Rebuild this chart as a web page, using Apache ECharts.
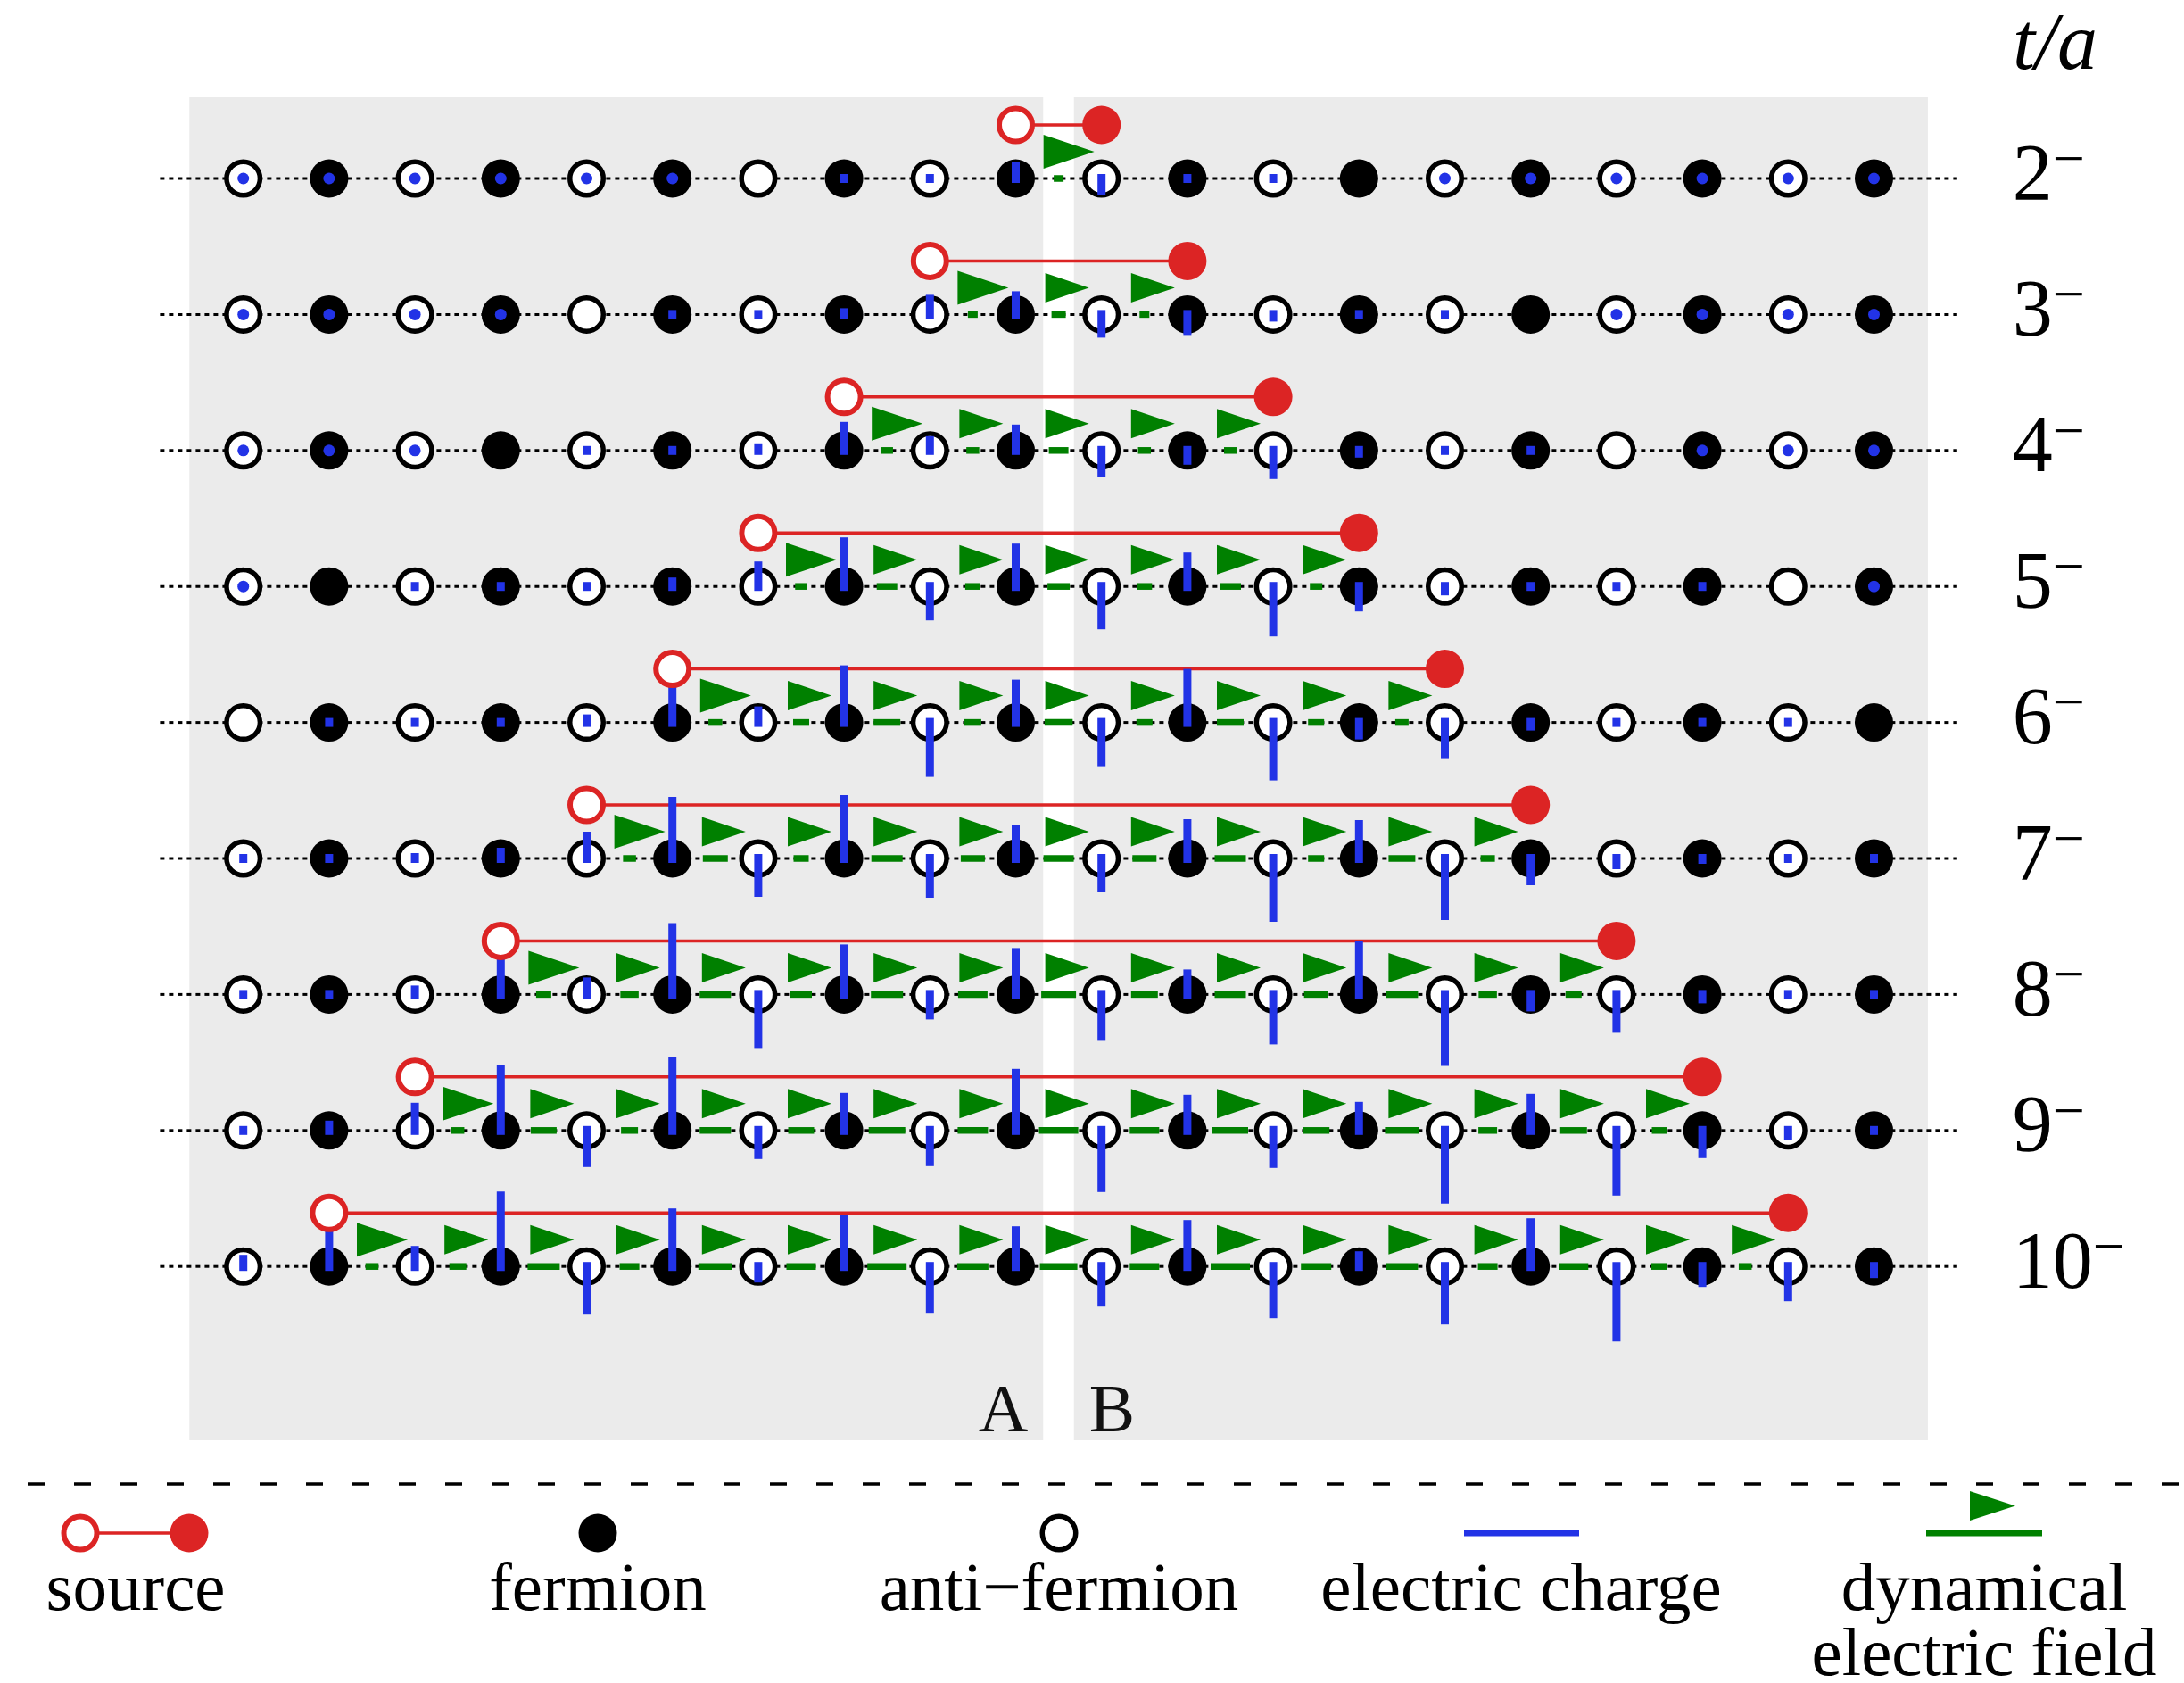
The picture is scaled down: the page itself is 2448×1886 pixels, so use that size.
<!DOCTYPE html>
<html><head><meta charset="utf-8">
<script src="https://cdn.jsdelivr.net/npm/echarts@6/dist/echarts.min.js"></script>
<style>html,body{margin:0;padding:0;background:#fff}#chart{width:2448px;height:1886px}</style>
</head><body><div id="chart"></div>
<script>
// ---------------- data ----------------
const rowTimes = [2, 3, 4, 5, 6, 7, 8, 9, 10];
const tickLabels = ['2', '3', '4', '5', '6', '7', '8', '9', '10'];
const siteKinds = ['anti','ferm','anti','ferm','anti','ferm','anti','ferm','anti','ferm',
                   'anti','ferm','anti','ferm','anti','ferm','anti','ferm','anti','ferm'];
// light-cone boundary sites per row (sites outside show only a dot, boundary sites are empty)
const coneEdges = [[6,13],[4,15],[3,16],[1,18],[0,19],[-1,20],[-1,20],[-1,20],[-1,20]];
const sourceLeft  = [9, 8, 7, 6, 5, 4, 3, 2, 1];
const sourceRight = [10, 11, 12, 13, 14, 15, 16, 17, 18];
const n = null;
// electric charge per site (positive = up)
const charge_t2  = [n,n,n,n,n,n,n, 0, 0, 0.13, -0.13, 0, 0, n,n,n,n,n,n,n];
const charge_t3  = [n,n,n,n,n, 0, 0, 0.02, 0.17, 0.21, -0.21, -0.18, -0.03, 0, 0, n,n,n,n,n];
const charge_t4  = [n,n,n,n, 0, 0, 0.03, 0.27, 0.11, 0.24, -0.25, -0.11, -0.27, -0.03, 0, 0, n,n,n,n];
const charge_t5  = [n,n, 0, 0, 0, 0.05, 0.23, 0.50, -0.33, 0.43, -0.43, 0.33, -0.51, -0.23, -0.05, 0, 0, 0, n,n];
const charge_t6  = [n, 0, 0, 0, 0.04, 0.35, 0.13, 0.59, -0.56, 0.43, -0.44, 0.55, -0.60, -0.14, -0.35, -0.04, 0, 0, 0, n];
const charge_t7  = [0, 0, 0.01, 0.07, 0.25, 0.64, -0.38, 0.66, -0.39, 0.33, -0.33, 0.39, -0.66, 0.38, -0.64, -0.25, -0.07, -0.01, 0, 0];
const charge_t8  = [0, 0, 0.05, 0.37, 0.14, 0.75, -0.55, 0.51, -0.23, 0.47, -0.47, 0.23, -0.51, 0.55, -0.75, -0.14, -0.38, -0.05, 0, 0];
const charge_t9  = [0, 0.06, 0.26, 0.68, -0.36, 0.77, -0.27, 0.37, -0.35, 0.64, -0.64, 0.35, -0.37, 0.27, -0.77, 0.36, -0.68, -0.26, -0.06, 0];
const charge_t10 = [0.08, 0.35, 0.18, 0.79, -0.49, 0.60, -0.13, 0.53, -0.47, 0.40, -0.40, 0.47, -0.53, 0.12, -0.60, 0.49, -0.79, -0.18, -0.34, -0.08];
// dynamical electric field on links, from the left source to the right source
const field_t2  = [0.22];
const field_t3  = [0.22, 0.32, 0.22];
const field_t4  = [0.27, 0.29, 0.44, 0.29, 0.28];
const field_t5  = [0.27, 0.46, 0.34, 0.50, 0.34, 0.48, 0.28];
const field_t6  = [0.31, 0.36, 0.60, 0.38, 0.63, 0.36, 0.60, 0.36, 0.30];
const field_t7  = [0.29, 0.56, 0.34, 0.70, 0.54, 0.68, 0.54, 0.70, 0.36, 0.60, 0.32];
const field_t8  = [0.34, 0.41, 0.70, 0.48, 0.72, 0.66, 0.78, 0.60, 0.70, 0.54, 0.72, 0.41, 0.36];
const field_t9  = [0.29, 0.58, 0.38, 0.70, 0.58, 0.82, 0.68, 0.88, 0.66, 0.80, 0.60, 0.76, 0.42, 0.60, 0.34];
const field_t10 = [0.29, 0.38, 0.72, 0.44, 0.76, 0.66, 0.88, 0.70, 0.84, 0.66, 0.88, 0.68, 0.72, 0.44, 0.66, 0.36, 0.29];
const legendLabels = ['source', 'fermion', 'anti\u2212fermion', 'electric charge', 'dynamical\nelectric field'];

const charges = [charge_t2, charge_t3, charge_t4, charge_t5, charge_t6, charge_t7, charge_t8, charge_t9, charge_t10];
const fields = [field_t2, field_t3, field_t4, field_t5, field_t6, field_t7, field_t8, field_t9, field_t10];

// ---------------- style constants ----------------
const RED = '#dc2424', BLUE = '#2233e6', GREEN = '#008000', GRAY = '#ebebeb';
const FONT = 'Liberation Serif';
const CHARGE_PX = 100, FIELD_PX = 50, BAR_W = 9, BAR_CAP = 5, FIELD_H = 7.5;
const SRC_DY = -60, TRI_DY = -30;
const CIRCLE_D = 43, RING_W = 5.5;

// ---------------- build series data ----------------
const barData = [], dotData = [], fermData = [], antiData = [], fieldData = [], triData = [];
const srcData = [];
rowTimes.forEach((t, r) => {
  const c = charges[r];
  for (let i = 0; i < siteKinds.length; i++) {
    if (siteKinds[i] === 'ferm') fermData.push([i, t]); else antiData.push([i, t]);
    if (c[i] !== null) barData.push([i, t, c[i]]);
    else if (i < coneEdges[r][0] || i > coneEdges[r][1]) dotData.push([i, t]);
  }
  fields[r].forEach((e, k) => {
    const link = sourceLeft[r] + k + 0.5;
    fieldData.push([link, t, e]);
    triData.push({ value: [link, t], first: k === 0 });
  });
  srcData.push([sourceLeft[r], t, sourceRight[r]]);
});
const srcOpen = srcData.map(d => [d[0], d[1]]);
const srcFull = srcData.map(d => [d[2], d[1]]);

const chart = echarts.init(document.getElementById('chart'), null, { renderer: 'canvas' });

const triSymbol = 'path://M0,0 L1,0.5 L0,1 Z';

const option = {
  animation: false,
  backgroundColor: '#fff',
  grid: { left: 176.5, right: 251.3, top: 47.6, bottom: 162 },
  xAxis: { type: 'value', min: -1, max: 20, show: false },
  yAxis: {
    type: 'value', inverse: true, min: 1, max: 12, interval: 1, position: 'right',
    axisLine: { show: false }, axisTick: { show: false }, splitLine: { show: false },
    axisLabel: {
      margin: 59, align: 'left',
      formatter: v => {
        const i = rowTimes.indexOf(v);
        return i < 0 ? '' : '{n|' + tickLabels[i] + '}{s|\u2212}';
      },
      rich: {
        n: { fontFamily: FONT, fontSize: 90, lineHeight: 100, color: '#000' },
        s: { fontFamily: FONT, fontSize: 64, lineHeight: 42, verticalAlign: 'top', color: '#000' }
      }
    }
  },
  series: [
    { // lattice line + panels
      type: 'custom', z: 2, silent: true,
      data: rowTimes.map(t => [0, t]),
      encode: { x: 0, y: 1 },
      renderItem: (params, api) => {
        const t = api.value(1);
        const a = api.coord([-0.97, t]), b = api.coord([19.97, t]);
        return { type: 'line', shape: { x1: a[0], y1: a[1], x2: b[0], y2: b[1] },
                 style: { stroke: '#000', lineWidth: 3, lineDash: [5, 5] } };
      },
      markArea: {
        silent: true,
        itemStyle: { color: GRAY, opacity: 1 },
        label: { fontFamily: FONT, fontSize: 77, color: '#111', distance: 0 },
        data: [
          [{ xAxis: -0.628, yAxis: 1.403, name: 'A',
             label: { position: 'insideBottomRight', offset: [-17, 8] } },
           { xAxis: 9.32, yAxis: 11.278 }],
          [{ xAxis: 9.678, yAxis: 1.403, name: 'B',
             label: { position: 'insideBottomLeft', offset: [17, 8] } },
           { xAxis: 19.628, yAxis: 11.278 }]
        ]
      }
    },
    { // electric field bars on the links
      type: 'custom', z: 3, silent: true, data: fieldData, encode: { x: 0, y: 1 },
      renderItem: (params, api) => {
        const p = api.coord([api.value(0), api.value(1)]);
        const w = api.value(2) * FIELD_PX;
        return { type: 'rect', shape: { x: p[0] - w / 2, y: p[1] - FIELD_H / 2, width: w, height: FIELD_H },
                 style: { fill: GREEN } };
      }
    },
    { type: 'scatter', z: 4, silent: true, data: fermData, symbol: 'circle', symbolSize: CIRCLE_D,
      itemStyle: { color: '#000', opacity: 1 } },
    { type: 'scatter', z: 4, silent: true, data: antiData, symbol: 'circle', symbolSize: CIRCLE_D - RING_W,
      itemStyle: { color: '#fff', borderColor: '#000', borderWidth: RING_W, opacity: 1 } },
    { // source string line
      type: 'custom', z: 5, silent: true, data: srcData, encode: { x: 0, y: 1 },
      renderItem: (params, api) => {
        const a = api.coord([api.value(0), api.value(1)]);
        const b = api.coord([api.value(2), api.value(1)]);
        return { type: 'line', shape: { x1: a[0], y1: a[1] + SRC_DY, x2: b[0], y2: b[1] + SRC_DY },
                 style: { stroke: RED, lineWidth: 3.5 } };
      }
    },
    { // electric charge bars
      type: 'custom', z: 6, silent: true, data: barData, encode: { x: 0, y: 1 },
      renderItem: (params, api) => {
        const p = api.coord([api.value(0), api.value(1)]);
        const len = api.value(2) * CHARGE_PX;
        const top = p[1] - Math.max(len, 0) - BAR_CAP;
        const bot = p[1] + Math.max(-len, 0) + BAR_CAP;
        return { type: 'rect', shape: { x: p[0] - BAR_W / 2, y: top, width: BAR_W, height: bot - top },
                 style: { fill: BLUE } };
      }
    },
    { type: 'scatter', z: 6, silent: true, data: dotData, symbol: 'circle', symbolSize: 13,
      itemStyle: { color: BLUE, opacity: 1 } },
    { type: 'scatter', z: 7, silent: true, symbol: triSymbol,
      data: triData.map(d => ({ value: d.value,
        symbolSize: d.first ? [57, 38] : [49, 33],
        symbolOffset: [d.first ? 11.5 : 9.5, TRI_DY] })),
      symbolKeepAspect: false,
      itemStyle: { color: GREEN, opacity: 1 } },
    { type: 'scatter', z: 8, silent: true, data: srcOpen, symbol: 'circle', symbolSize: CIRCLE_D - 6,
      symbolOffset: [0, SRC_DY], itemStyle: { color: '#fff', borderColor: RED, borderWidth: 6, opacity: 1 } },
    { type: 'scatter', z: 8, silent: true, data: srcFull, symbol: 'circle', symbolSize: CIRCLE_D,
      symbolOffset: [0, SRC_DY], itemStyle: { color: RED, opacity: 1 } }
  ],
  graphic: [
    { type: 'text', x: 2256, y: 53, silent: true,
      style: { text: 't/a', fontFamily: FONT, fontStyle: 'italic', fontSize: 90, fill: '#000',
               align: 'left', verticalAlign: 'middle' } },
    { type: 'line', silent: true, shape: { x1: 31, y1: 1663, x2: 2448, y2: 1663 },
      style: { stroke: '#000', lineWidth: 3.3, lineDash: [19, 33] } },
    // source
    { type: 'line', silent: true, shape: { x1: 90, y1: 1718, x2: 212, y2: 1718 }, style: { stroke: RED, lineWidth: 3.5 } },
    { type: 'circle', silent: true, shape: { cx: 90, cy: 1718, r: (CIRCLE_D - 6) / 2 }, style: { fill: '#fff', stroke: RED, lineWidth: 6 } },
    { type: 'circle', silent: true, shape: { cx: 212, cy: 1718, r: CIRCLE_D / 2 }, style: { fill: RED } },
    // fermion
    { type: 'circle', silent: true, shape: { cx: 670, cy: 1718, r: CIRCLE_D / 2 }, style: { fill: '#000' } },
    // anti-fermion
    { type: 'circle', silent: true, shape: { cx: 1187, cy: 1718, r: (CIRCLE_D - RING_W) / 2 }, style: { fill: '#fff', stroke: '#000', lineWidth: RING_W } },
    // charge
    { type: 'rect', silent: true, shape: { x: 1641, y: 1714.7, width: 129, height: 6.7 }, style: { fill: BLUE } },
    // field
    { type: 'rect', silent: true, shape: { x: 2159, y: 1714.7, width: 130, height: 6.7 }, style: { fill: GREEN } },
    { type: 'polygon', silent: true, shape: { points: [[2208, 1671], [2259, 1687.5], [2208, 1704]] }, style: { fill: GREEN } },
    { type: 'text', silent: true, x: 152, y: 1784, style: { text: legendLabels[0], fontFamily: FONT, fontSize: 77, fill: '#000', align: 'center', verticalAlign: 'middle' } },
    { type: 'text', silent: true, x: 670, y: 1784, style: { text: legendLabels[1], fontFamily: FONT, fontSize: 77, fill: '#000', align: 'center', verticalAlign: 'middle' } },
    { type: 'text', silent: true, x: 1187, y: 1784, style: { text: legendLabels[2], fontFamily: FONT, fontSize: 77, fill: '#000', align: 'center', verticalAlign: 'middle' } },
    { type: 'text', silent: true, x: 1705, y: 1784, style: { text: legendLabels[3], fontFamily: FONT, fontSize: 77, fill: '#000', align: 'center', verticalAlign: 'middle' } },
    { type: 'text', silent: true, x: 2224, y: 1820, style: { text: legendLabels[4], fontFamily: FONT, fontSize: 77, lineHeight: 73, fill: '#000', align: 'center', verticalAlign: 'middle' } }
  ]
};
chart.setOption(option);
</script>
</body></html>
